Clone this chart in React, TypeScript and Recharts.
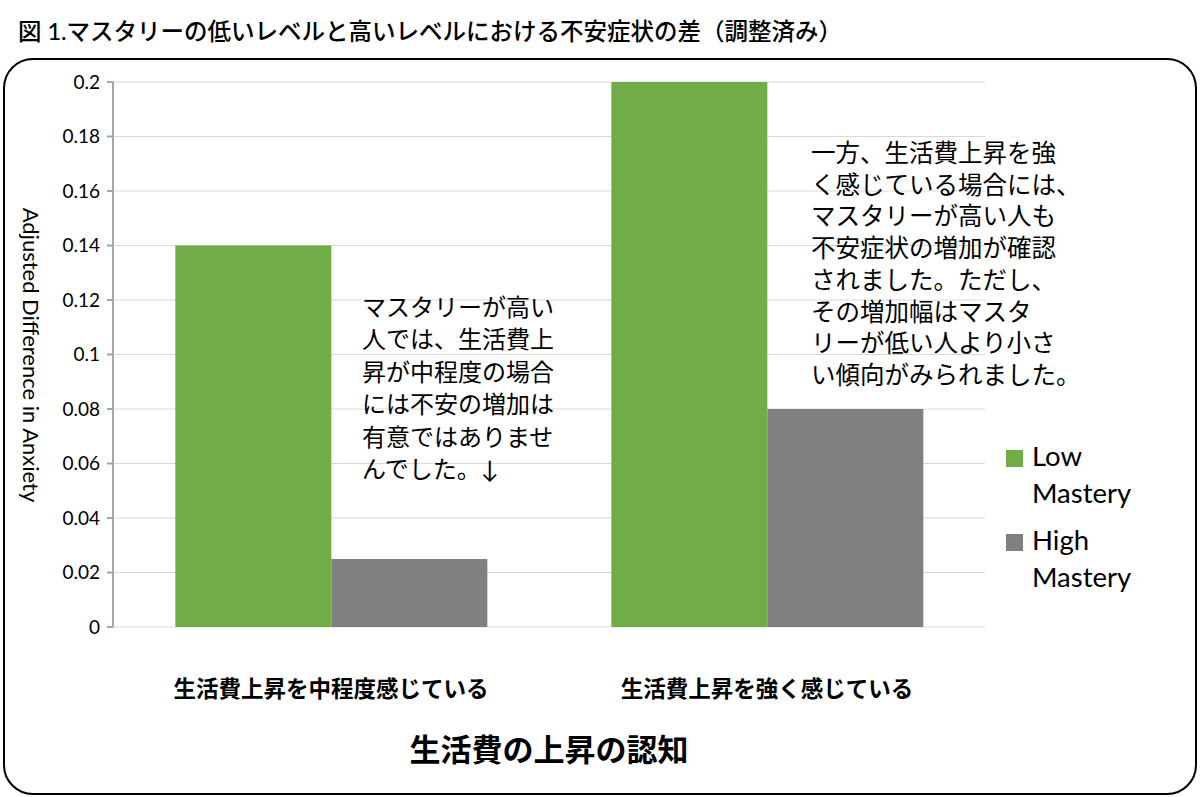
import { BarChart, Bar, XAxis, YAxis, CartesianGrid } from 'recharts';

const categories = ['生活費上昇を中程度感じている', '生活費上昇を強く感じている'];
const lowMastery = [0.14, 0.2];
const highMastery = [0.025, 0.08];
const yTicks = [0, 0.02, 0.04, 0.06, 0.08, 0.1, 0.12, 0.14, 0.16, 0.18, 0.2];

const noteLeft = [
  'マスタリーが高い',
  '人では、生活費上',
  '昇が中程度の場合',
  'には不安の増加は',
  '有意ではありませ',
  'んでした。↓',
];
const noteRight = [
  '一方、生活費上昇を強',
  'く感じている場合には、',
  'マスタリーが高い人も',
  '不安症状の増加が確認',
  'されました。ただし、',
  'その増加幅はマスタ',
  'リーが低い人より小さ',
  'い傾向がみられました。',
];

const data = categories.map((name, i) => ({ name, low: lowMastery[i], high: highMastery[i] }));

const FONT = "Lato, 'Noto Sans CJK JP', sans-serif";
const GREEN = '#70ad47';
const GRAY = '#808080';

const legendItems = [
  { color: GREEN, lines: ['Low', 'Mastery'] },
  { color: GRAY, lines: ['High', 'Mastery'] },
];

function LegendBox() {
  return (
    <div style={{ position: 'absolute', left: 1006, top: 437, fontSize: 27.5, lineHeight: '37px', color: '#000' }}>
      {legendItems.map((it) => (
        <div key={it.lines[0]} style={{ display: 'flex', marginBottom: 10 }}>
          <div style={{ width: 17, height: 17, background: it.color, marginTop: 13, marginRight: 9 }} />
          <div>
            {it.lines.map((l) => <div key={l}>{l}</div>)}
          </div>
        </div>
      ))}
    </div>
  );
}

function CategoryTick({ x, y, payload }: any) {
  return (
    <text x={x} y={y} dy={62} textAnchor="middle" fontSize={22.5} fontWeight="bold" fill="#000" fontFamily={FONT}>
      {payload.value}
    </text>
  );
}

export default function App() {
  return (
    <div style={{ position: 'relative', width: 1200, height: 797, background: '#fff', fontFamily: FONT }}>
      <style>{'body{margin:0}'}</style>
      <div style={{ position: 'absolute', left: 18, top: 13, fontSize: 23.5, fontWeight: 500, color: '#000', whiteSpace: 'nowrap' }}>
        図 1.マスタリーの低いレベルと高いレベルにおける不安症状の差（調整済み）
      </div>
      <div style={{ position: 'absolute', left: 3, top: 58, width: 1190, height: 733, border: '2px solid #000', borderRadius: 30 }} />

      <div style={{ position: 'absolute', left: 0, top: 0 }}>
        <BarChart width={1200} height={797} data={data} margin={{ top: 82, right: 215, bottom: 110, left: 53 }} barGap={0} barCategoryGap="14.3%">
          <CartesianGrid vertical={false} stroke="#d9d9d9" />
          <XAxis dataKey="name" axisLine={false} tickLine={false} height={60} tick={<CategoryTick />} interval={0} />
          <YAxis
            width={60}
            domain={[0, 0.2]}
            ticks={yTicks}
            interval={0}
            axisLine={{ stroke: '#a6a6a6', strokeWidth: 2 }}
            tickLine={{ stroke: '#a6a6a6', strokeWidth: 2 }}
            tickSize={6}
            tick={{ fontSize: 19, fill: '#000', fontFamily: FONT }}
            tickMargin={7}
          />
          <Bar dataKey="low" name="Low Mastery" fill={GREEN} isAnimationActive={false} />
          <Bar dataKey="high" name="High Mastery" fill={GRAY} isAnimationActive={false} />
        </BarChart>
      </div>

      <LegendBox />

      <div style={{ position: 'absolute', left: 31, top: 355, width: 0, height: 0 }}>
        <div style={{ position: 'absolute', transform: 'translate(-50%, -50%) rotate(90deg)', whiteSpace: 'nowrap', fontSize: 22, color: '#000' }}>
          Adjusted Difference in Anxiety
        </div>
      </div>

      <div style={{ position: 'absolute', left: 399, top: 725, fontSize: 31, fontWeight: 'bold', color: '#000', whiteSpace: 'nowrap', width: 300, textAlign: 'center' }}>
        生活費の上昇の認知
      </div>

      <div style={{ position: 'absolute', left: 362, top: 291, fontSize: 24, lineHeight: '32.4px', color: '#000', whiteSpace: 'nowrap' }}>
        {noteLeft.map((l) => <div key={l}>{l}</div>)}
      </div>
      <div style={{ position: 'absolute', left: 811, top: 137, fontSize: 24.5, lineHeight: '31.7px', color: '#000', whiteSpace: 'nowrap' }}>
        {noteRight.map((l) => <div key={l}>{l}</div>)}
      </div>
    </div>
  );
}
